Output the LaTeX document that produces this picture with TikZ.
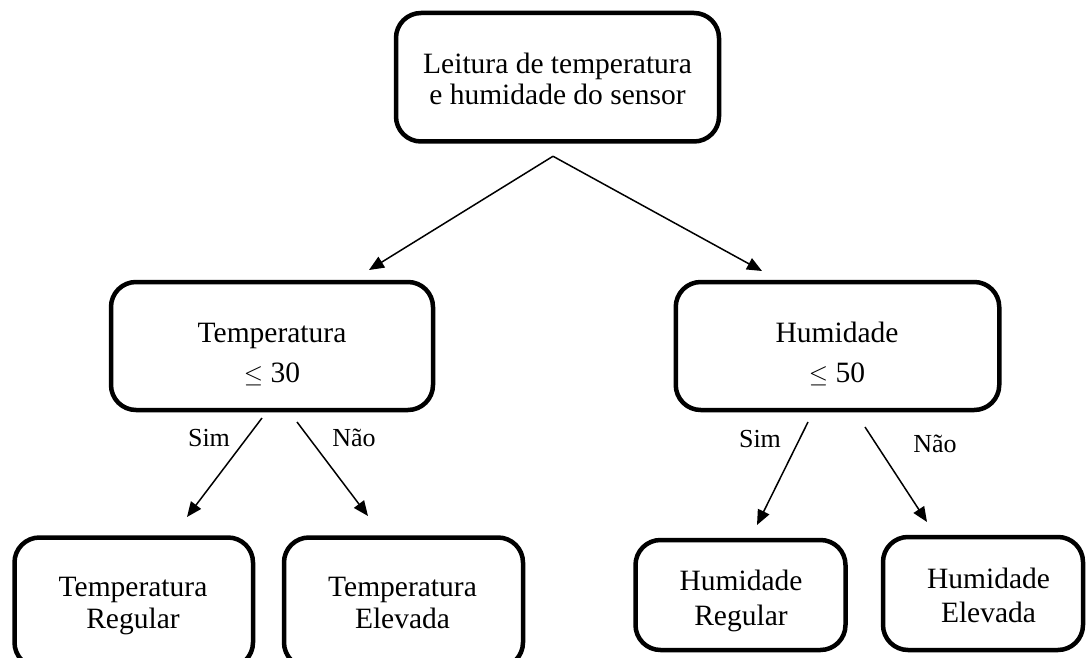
\documentclass[tikz,border=0pt]{standalone}
\usepackage{fontspec}
\setmainfont{Liberation Serif}
\usetikzlibrary{arrows.meta,calc}
\newcommand{\myle}{\raisebox{0pt}{$\leq$}}
\begin{document}
\begin{tikzpicture}[x=1pt,y=-1pt,
  box/.style={draw, line width=4.5pt, rounded corners=25pt, inner sep=0pt},
  txt/.style={font=\fontsize{29.5}{31}\selectfont, inner sep=0pt, anchor=base},
  lbl/.style={font=\fontsize{26}{28}\selectfont, inner sep=0pt, anchor=base},
  arr/.style={line width=1.5pt, -{Triangle[length=15pt,width=12.5pt]}}]
\useasboundingbox (0,0) rectangle (1087,658);
\clip (0,0) rectangle (1087,658);
% boxes
\node[box, minimum width=323pt, minimum height=128.5pt] (top) at (557.5,77.25) {};
\node[box, minimum width=322pt, minimum height=128pt] (temp) at (272,346) {};
\node[box, minimum width=323.5pt, minimum height=128pt] (hum) at (837.5,346) {};
\node[box, minimum width=238.5pt, minimum height=130pt] (tr) at (133.75,602.5) {};
\node[box, minimum width=239pt, minimum height=130pt] (te) at (403.5,602.5) {};
\node[box, minimum width=210pt, minimum height=110pt] (hr) at (740.5,595) {};
\node[box, minimum width=200pt, minimum height=113pt] (he) at (983,593.5) {};
% texts
\node[txt] (topa) at (557.5,74) {Leitura de temperatura};
\node[txt] (topb) at (557.5,105) {e humidade do sensor};
\node[txt] (tempa) at (272,342) {Temperatura};
\node[txt] (tempb) at (272,382) {\myle{} 30};
\node[txt] (huma) at (837,342) {Humidade};
\node[txt] (humb) at (837,382) {\myle{} 50};
\node[txt] (tra) at (133,596) {Temperatura};
\node[txt] (trb) at (133,628) {Regular};
\node[txt] (tea) at (402.5,596) {Temperatura};
\node[txt] (teb) at (402.5,628) {Elevada};
\node[txt] (hra) at (741,590) {Humidade};
\node[txt] (hrb) at (741,625) {Regular};
\node[txt] (hea) at (988.5,588) {Humidade};
\node[txt] (heb) at (988.5,622) {Elevada};
% labels
\node[lbl] (s1) at (209,446) {Sim};
\node[lbl] (n1) at (354,446) {Não};
\node[lbl] (s2) at (760,447) {Sim};
\node[lbl] (n2) at (935,452) {Não};
% connector ends
\coordinate (topo) at ($(top.south)+(-4.5,12.5)$);
\coordinate (tempi) at ($(temp.north)+(97,-9.75)$);
\coordinate (humi) at ($(hum.north)+(-75.5,-8.75)$);
\coordinate (tempo1) at ($(temp.south)+(-10,5.75)$);
\coordinate (tempo2) at ($(temp.south)+(25,9.75)$);
\coordinate (tri) at ($(tr.north)+(53.25,-18.25)$);
\coordinate (tei) at ($(te.north)+(-35.5,-19.25)$);
\coordinate (humo1) at ($(hum.south)+(-29.5,9.75)$);
\coordinate (humo2) at ($(hum.south)+(27.5,14.75)$);
\coordinate (hri) at ($(hr.north)+(16.5,-12.75)$);
\coordinate (hei) at ($(he.north)+(-56,-12.75)$);
% connectors
\draw[arr] (topo) -- (tempi);
\draw[arr] (topo) -- (humi);
\draw[arr] (tempo1) -- (tri);
\draw[arr] (tempo2) -- (tei);
\draw[arr] (humo1) -- (hri);
\draw[arr] (humo2) -- (hei);
\end{tikzpicture}
\end{document}
